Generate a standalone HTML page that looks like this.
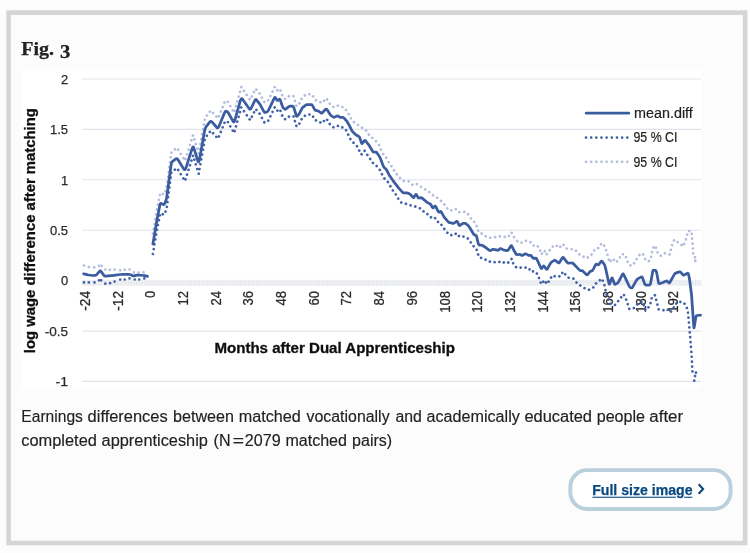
<!DOCTYPE html>
<html lang="en">
<head>
<meta charset="utf-8">
<title>Fig. 3</title>
<style>
html,body,figure{margin:0;padding:0;background:#fcfcfc;}
body{width:750px;height:553px;overflow:hidden;font-family:"Liberation Sans",sans-serif;}
svg{display:block;position:absolute;left:0;top:0;will-change:transform;}
svg text{font-family:"Liberation Sans",sans-serif;}
svg text.serif{font-family:"Liberation Serif",serif;}
</style>
</head>
<body>
<figure>
<svg width="750" height="553" viewBox="0 0 750 553">
<rect x="0" y="0" width="750" height="553" fill="#fcfcfc"/>
<!-- figure card -->
<rect x="8.57" y="12.6" width="736.5" height="530.45" fill="#fcfcfc" stroke="#d5d5d5" stroke-width="4.65"/>
<!-- figure title -->
<text class="serif" x="21.3" y="54.9" font-size="18.6" font-weight="bold" fill="#222222" stroke="#222222" stroke-width="0.25" textLength="32.8" lengthAdjust="spacingAndGlyphs">Fig.</text>
<text class="serif" x="59.9" y="57.7" font-size="19.2" font-weight="bold" fill="#222222" stroke="#222222" stroke-width="0.25" textLength="10.4" lengthAdjust="spacingAndGlyphs">3</text>
<defs><filter id="soft" x="-2%" y="-2%" width="104%" height="104%"><feGaussianBlur stdDeviation="0.5"/></filter></defs>
<g id="chart" filter="url(#soft)">
<rect x="21.2" y="69.8" width="680.3" height="319" fill="#ffffff"/>
<line x1="82.3" y1="79.0" x2="701.0" y2="79.0" stroke="#dfe4ec" stroke-width="1.1"/>
<line x1="82.3" y1="129.4" x2="701.0" y2="129.4" stroke="#dfe4ec" stroke-width="1.1"/>
<line x1="82.3" y1="179.7" x2="701.0" y2="179.7" stroke="#dfe4ec" stroke-width="1.1"/>
<line x1="82.3" y1="230.3" x2="701.0" y2="230.3" stroke="#dfe4ec" stroke-width="1.1"/>
<line x1="82.3" y1="331.1" x2="701.0" y2="331.1" stroke="#dfe4ec" stroke-width="1.1"/>
<line x1="82.3" y1="381.4" x2="701.0" y2="381.4" stroke="#dfe4ec" stroke-width="1.1"/>
<rect x="82.3" y="279.9" width="618.7" height="5.8" fill="#f0f1f4"/>
<path d="M82.30,279.9V285.7M85.02,279.9V285.7M87.75,279.9V285.7M90.47,279.9V285.7M93.20,279.9V285.7M95.92,279.9V285.7M98.65,279.9V285.7M101.37,279.9V285.7M104.10,279.9V285.7M106.82,279.9V285.7M109.55,279.9V285.7M112.27,279.9V285.7M115.00,279.9V285.7M117.72,279.9V285.7M120.45,279.9V285.7M123.17,279.9V285.7M125.90,279.9V285.7M128.62,279.9V285.7M131.35,279.9V285.7M134.07,279.9V285.7M136.80,279.9V285.7M139.52,279.9V285.7M142.25,279.9V285.7M144.97,279.9V285.7M147.70,279.9V285.7M150.42,279.9V285.7M153.15,279.9V285.7M155.87,279.9V285.7M158.60,279.9V285.7M161.32,279.9V285.7M164.05,279.9V285.7M166.77,279.9V285.7M169.50,279.9V285.7M172.22,279.9V285.7M174.95,279.9V285.7M177.67,279.9V285.7M180.40,279.9V285.7M183.12,279.9V285.7M185.85,279.9V285.7M188.57,279.9V285.7M191.30,279.9V285.7M194.02,279.9V285.7M196.75,279.9V285.7M199.47,279.9V285.7M202.20,279.9V285.7M204.92,279.9V285.7M207.65,279.9V285.7M210.37,279.9V285.7M213.10,279.9V285.7M215.82,279.9V285.7M218.55,279.9V285.7M221.27,279.9V285.7M224.00,279.9V285.7M226.72,279.9V285.7M229.45,279.9V285.7M232.17,279.9V285.7M234.90,279.9V285.7M237.62,279.9V285.7M240.35,279.9V285.7M243.07,279.9V285.7M245.80,279.9V285.7M248.52,279.9V285.7M251.25,279.9V285.7M253.97,279.9V285.7M256.70,279.9V285.7M259.42,279.9V285.7M262.15,279.9V285.7M264.87,279.9V285.7M267.60,279.9V285.7M270.32,279.9V285.7M273.05,279.9V285.7M275.77,279.9V285.7M278.50,279.9V285.7M281.22,279.9V285.7M283.95,279.9V285.7M286.67,279.9V285.7M289.40,279.9V285.7M292.12,279.9V285.7M294.85,279.9V285.7M297.57,279.9V285.7M300.30,279.9V285.7M303.03,279.9V285.7M305.75,279.9V285.7M308.48,279.9V285.7M311.20,279.9V285.7M313.93,279.9V285.7M316.65,279.9V285.7M319.38,279.9V285.7M322.10,279.9V285.7M324.83,279.9V285.7M327.55,279.9V285.7M330.28,279.9V285.7M333.00,279.9V285.7M335.73,279.9V285.7M338.45,279.9V285.7M341.18,279.9V285.7M343.90,279.9V285.7M346.63,279.9V285.7M349.35,279.9V285.7M352.08,279.9V285.7M354.80,279.9V285.7M357.53,279.9V285.7M360.25,279.9V285.7M362.98,279.9V285.7M365.70,279.9V285.7M368.43,279.9V285.7M371.15,279.9V285.7M373.88,279.9V285.7M376.60,279.9V285.7M379.33,279.9V285.7M382.05,279.9V285.7M384.78,279.9V285.7M387.50,279.9V285.7M390.23,279.9V285.7M392.95,279.9V285.7M395.68,279.9V285.7M398.40,279.9V285.7M401.13,279.9V285.7M403.85,279.9V285.7M406.58,279.9V285.7M409.30,279.9V285.7M412.03,279.9V285.7M414.75,279.9V285.7M417.48,279.9V285.7M420.20,279.9V285.7M422.93,279.9V285.7M425.65,279.9V285.7M428.38,279.9V285.7M431.10,279.9V285.7M433.83,279.9V285.7M436.55,279.9V285.7M439.28,279.9V285.7M442.00,279.9V285.7M444.73,279.9V285.7M447.45,279.9V285.7M450.18,279.9V285.7M452.90,279.9V285.7M455.63,279.9V285.7M458.35,279.9V285.7M461.08,279.9V285.7M463.80,279.9V285.7M466.53,279.9V285.7M469.25,279.9V285.7M471.98,279.9V285.7M474.70,279.9V285.7M477.43,279.9V285.7M480.15,279.9V285.7M482.88,279.9V285.7M485.60,279.9V285.7M488.33,279.9V285.7M491.05,279.9V285.7M493.78,279.9V285.7M496.50,279.9V285.7M499.23,279.9V285.7M501.95,279.9V285.7M504.68,279.9V285.7M507.40,279.9V285.7M510.13,279.9V285.7M512.85,279.9V285.7M515.58,279.9V285.7M518.30,279.9V285.7M521.03,279.9V285.7M523.75,279.9V285.7M526.48,279.9V285.7M529.20,279.9V285.7M531.93,279.9V285.7M534.65,279.9V285.7M537.38,279.9V285.7M540.10,279.9V285.7M542.83,279.9V285.7M545.55,279.9V285.7M548.28,279.9V285.7M551.00,279.9V285.7M553.73,279.9V285.7M556.45,279.9V285.7M559.18,279.9V285.7M561.90,279.9V285.7M564.63,279.9V285.7M567.35,279.9V285.7M570.08,279.9V285.7M572.80,279.9V285.7M575.53,279.9V285.7M578.25,279.9V285.7M580.98,279.9V285.7M583.70,279.9V285.7M586.43,279.9V285.7M589.15,279.9V285.7M591.88,279.9V285.7M594.60,279.9V285.7M597.33,279.9V285.7M600.05,279.9V285.7M602.78,279.9V285.7M605.50,279.9V285.7M608.23,279.9V285.7M610.95,279.9V285.7M613.68,279.9V285.7M616.40,279.9V285.7M619.13,279.9V285.7M621.85,279.9V285.7M624.58,279.9V285.7M627.30,279.9V285.7M630.03,279.9V285.7M632.75,279.9V285.7M635.48,279.9V285.7M638.20,279.9V285.7M640.93,279.9V285.7M643.65,279.9V285.7M646.38,279.9V285.7M649.10,279.9V285.7M651.83,279.9V285.7M654.55,279.9V285.7M657.28,279.9V285.7M660.00,279.9V285.7M662.73,279.9V285.7M665.45,279.9V285.7M668.18,279.9V285.7M670.90,279.9V285.7M673.63,279.9V285.7M676.35,279.9V285.7M679.08,279.9V285.7M681.80,279.9V285.7M684.53,279.9V285.7M687.25,279.9V285.7M689.98,279.9V285.7M692.70,279.9V285.7M695.43,279.9V285.7M698.15,279.9V285.7M700.88,279.9V285.7" stroke="#e7e9ed" stroke-width="1" fill="none"/>
<text x="68.1" y="83.8" text-anchor="end" font-size="13.7" fill="#2a2a2a" stroke="#2a2a2a" stroke-width="0.25" textLength="7.2" lengthAdjust="spacingAndGlyphs">2</text>
<text x="68.1" y="134.2" text-anchor="end" font-size="13.7" fill="#2a2a2a" stroke="#2a2a2a" stroke-width="0.25" textLength="18.1" lengthAdjust="spacingAndGlyphs">1.5</text>
<text x="68.1" y="184.5" text-anchor="end" font-size="13.7" fill="#2a2a2a" stroke="#2a2a2a" stroke-width="0.25" textLength="7.2" lengthAdjust="spacingAndGlyphs">1</text>
<text x="68.1" y="235.1" text-anchor="end" font-size="13.7" fill="#2a2a2a" stroke="#2a2a2a" stroke-width="0.25" textLength="18.1" lengthAdjust="spacingAndGlyphs">0.5</text>
<text x="68.1" y="285.1" text-anchor="end" font-size="13.7" fill="#2a2a2a" stroke="#2a2a2a" stroke-width="0.25" textLength="7.2" lengthAdjust="spacingAndGlyphs">0</text>
<text x="68.1" y="335.9" text-anchor="end" font-size="13.7" fill="#2a2a2a" stroke="#2a2a2a" stroke-width="0.25" textLength="23.4" lengthAdjust="spacingAndGlyphs">-0.5</text>
<text x="68.1" y="386.2" text-anchor="end" font-size="13.7" fill="#2a2a2a" stroke="#2a2a2a" stroke-width="0.25" textLength="12.6" lengthAdjust="spacingAndGlyphs">-1</text>
<text transform="translate(89.8,290.9) rotate(-90)" text-anchor="end" font-size="14" fill="#2a2a2a" stroke="#2a2a2a" stroke-width="0.25" textLength="19.8" lengthAdjust="spacingAndGlyphs">-24</text>
<text transform="translate(122.5,290.9) rotate(-90)" text-anchor="end" font-size="14" fill="#2a2a2a" stroke="#2a2a2a" stroke-width="0.25" textLength="19.8" lengthAdjust="spacingAndGlyphs">-12</text>
<text transform="translate(155.2,290.9) rotate(-90)" text-anchor="end" font-size="14" fill="#2a2a2a" stroke="#2a2a2a" stroke-width="0.25" textLength="7.2" lengthAdjust="spacingAndGlyphs">0</text>
<text transform="translate(187.9,290.9) rotate(-90)" text-anchor="end" font-size="14" fill="#2a2a2a" stroke="#2a2a2a" stroke-width="0.25" textLength="14.5" lengthAdjust="spacingAndGlyphs">12</text>
<text transform="translate(220.6,290.9) rotate(-90)" text-anchor="end" font-size="14" fill="#2a2a2a" stroke="#2a2a2a" stroke-width="0.25" textLength="14.5" lengthAdjust="spacingAndGlyphs">24</text>
<text transform="translate(253.3,290.9) rotate(-90)" text-anchor="end" font-size="14" fill="#2a2a2a" stroke="#2a2a2a" stroke-width="0.25" textLength="14.5" lengthAdjust="spacingAndGlyphs">36</text>
<text transform="translate(286.0,290.9) rotate(-90)" text-anchor="end" font-size="14" fill="#2a2a2a" stroke="#2a2a2a" stroke-width="0.25" textLength="14.5" lengthAdjust="spacingAndGlyphs">48</text>
<text transform="translate(318.7,290.9) rotate(-90)" text-anchor="end" font-size="14" fill="#2a2a2a" stroke="#2a2a2a" stroke-width="0.25" textLength="14.5" lengthAdjust="spacingAndGlyphs">60</text>
<text transform="translate(351.4,290.9) rotate(-90)" text-anchor="end" font-size="14" fill="#2a2a2a" stroke="#2a2a2a" stroke-width="0.25" textLength="14.5" lengthAdjust="spacingAndGlyphs">72</text>
<text transform="translate(384.1,290.9) rotate(-90)" text-anchor="end" font-size="14" fill="#2a2a2a" stroke="#2a2a2a" stroke-width="0.25" textLength="14.5" lengthAdjust="spacingAndGlyphs">84</text>
<text transform="translate(416.8,290.9) rotate(-90)" text-anchor="end" font-size="14" fill="#2a2a2a" stroke="#2a2a2a" stroke-width="0.25" textLength="14.5" lengthAdjust="spacingAndGlyphs">96</text>
<text transform="translate(449.5,290.9) rotate(-90)" text-anchor="end" font-size="14" fill="#2a2a2a" stroke="#2a2a2a" stroke-width="0.25" textLength="21.8" lengthAdjust="spacingAndGlyphs">108</text>
<text transform="translate(482.2,290.9) rotate(-90)" text-anchor="end" font-size="14" fill="#2a2a2a" stroke="#2a2a2a" stroke-width="0.25" textLength="21.8" lengthAdjust="spacingAndGlyphs">120</text>
<text transform="translate(514.9,290.9) rotate(-90)" text-anchor="end" font-size="14" fill="#2a2a2a" stroke="#2a2a2a" stroke-width="0.25" textLength="21.8" lengthAdjust="spacingAndGlyphs">132</text>
<text transform="translate(547.6,290.9) rotate(-90)" text-anchor="end" font-size="14" fill="#2a2a2a" stroke="#2a2a2a" stroke-width="0.25" textLength="21.8" lengthAdjust="spacingAndGlyphs">144</text>
<text transform="translate(580.3,290.9) rotate(-90)" text-anchor="end" font-size="14" fill="#2a2a2a" stroke="#2a2a2a" stroke-width="0.25" textLength="21.8" lengthAdjust="spacingAndGlyphs">156</text>
<text transform="translate(613.0,290.9) rotate(-90)" text-anchor="end" font-size="14" fill="#2a2a2a" stroke="#2a2a2a" stroke-width="0.25" textLength="21.8" lengthAdjust="spacingAndGlyphs">168</text>
<text transform="translate(645.7,290.9) rotate(-90)" text-anchor="end" font-size="14" fill="#2a2a2a" stroke="#2a2a2a" stroke-width="0.25" textLength="21.8" lengthAdjust="spacingAndGlyphs">180</text>
<text transform="translate(678.4,290.9) rotate(-90)" text-anchor="end" font-size="14" fill="#2a2a2a" stroke="#2a2a2a" stroke-width="0.25" textLength="21.8" lengthAdjust="spacingAndGlyphs">192</text>
<text x="334.7" y="353.4" text-anchor="middle" font-size="14.1" font-weight="bold" fill="#111111" stroke="#111111" stroke-width="0.3" textLength="240.5" lengthAdjust="spacingAndGlyphs">Months after Dual Apprenticeship</text>
<text transform="translate(35.3,230.7) rotate(-90)" text-anchor="middle" font-size="14.4" font-weight="bold" fill="#111111" stroke="#111111" stroke-width="0.3" textLength="245" lengthAdjust="spacingAndGlyphs">log wage difference after matching</text>
<path d="M84.0,265.5h0.01M88.8,267.1h0.01M94.2,267.4h0.01M99.0,265.8h0.01M101.7,265.8h0.01M105.3,269.5h0.01M109.8,269.8h0.01M114.6,269.5h0.01M120.2,270.3h0.01M124.7,269.8h0.01M129.5,269.5h0.01M133.9,272.4h0.01M138.7,272.7h0.01M143.5,272.4h0.01" stroke="#b3bcdd" fill="none" stroke-width="2.7" stroke-linecap="round" stroke-linejoin="round" stroke-dasharray="0.01 4.9"/>
<path d="M152.9,233.7 L157.2,208.2 L160.3,192.9 L164.1,194.5 L166.5,188.9 L171.4,151.9 L177.0,147.8 L185.0,160.7 L193.1,135.1 L198.7,153.5 L205.1,117.7 L210.8,110.4 L218.0,118.4 L225.2,100.7 L227.7,101.5 L234.1,112.8 L241.3,87.0 L250.2,99.9 L255.6,88.7 L259.7,93.5 L264.5,102.3 L267.7,101.5 L274.9,86.7 L277.3,90.3 L279.8,88.7 L283.0,97.5 L285.4,99.1 L289.4,95.9 L293.4,95.9 L296.6,106.3 L299.1,103.9 L302.3,97.5 L306.3,94.3 L311.9,94.3 L315.1,99.9 L318.4,100.7 L321.6,103.1 L326.4,98.3 L330.4,104.7 L333.6,107.1 L337.7,105.5 L340.1,107.1 L343.3,107.1 L346.5,110.4 L348.9,114.4 L352.1,120.8 L358.8,125.6 L366.1,130.5 L369.3,135.3 L375.7,140.9 L379.0,144.9 L380.6,149.0 L383.0,153.8 L386.2,157.8 L388.6,162.1 L391.5,166.3 L394.2,170.7 L397.1,174.7 L400.7,178.7 L403.9,181.1 L408.7,181.4 L412.7,185.1 L416.8,184.0 L420.8,186.8 L424.8,189.2 L428.8,191.6 L432.0,194.8 L436.1,196.9 L439.3,199.6 L442.5,202.0 L445.7,206.1 L448.1,209.8 L453.0,210.6 L456.2,209.0 L459.4,212.2 L465.8,211.8 L469.1,215.4 L471.5,219.4 L475.5,223.1 L477.1,227.5 L478.7,232.3 L482.7,233.9 L486.8,237.1 L490.8,237.9 L499.6,236.3 L508.1,237.1 L511.4,232.3 L514.9,238.7 L518.1,241.9 L522.1,242.7 L525.4,240.8 L530.0,241.5 L533.2,245.6 L537.2,245.1 L539.7,249.6 L541.3,254.4 L544.5,250.4 L546.1,254.9 L548.5,252.0 L551.7,247.2 L555.7,244.8 L559.0,248.0 L563.0,244.0 L567.0,248.8 L575.0,249.6 L578.3,253.6 L582.3,256.0 L586.3,258.4 L589.5,256.5 L592.7,253.3 L595.1,248.8 L598.4,248.0 L601.6,243.1 L604.8,246.4 L606.4,251.2 L608.0,256.8 L609.6,262.4 L612.8,258.4 L616.1,262.5 L619.3,258.4 L621.5,254.3 L624.7,254.3 L626.7,258.5 L628.1,263.9 L631.4,265.9 L634.8,262.5 L637.4,257.8 L640.1,253.8 L642.8,253.8 L644.8,258.5 L648.2,261.6 L650.8,259.2 L651.5,254.5 L652.6,249.8 L654.4,245.5 L656.6,248.5 L657.9,253.8 L660.9,255.8 L664.9,253.2 L669.6,254.5 L670.9,249.5 L672.2,244.5 L674.3,239.8 L676.3,241.5 L679.6,243.1 L683.0,246.5 L685.6,240.7 L687.0,235.7 L687.9,231.1 L691.4,231.1 L691.9,236.4 L692.3,241.8 L692.7,246.4 L693.0,251.1 L693.3,256.5 L696.7,258.2 L694.3,262.5" stroke="#b3bcdd" fill="none" stroke-width="2.7" stroke-linecap="round" stroke-linejoin="round" stroke-dasharray="0.01 4.9"/>
<path d="M84.0,282.4h0.01M88.8,282.4h0.01M94.5,282.4h0.01M99.0,280.3h0.01M101.2,280.3h0.01M105.3,283.7h0.01M110.1,283.2h0.01M114.6,281.6h0.01M120.2,279.6h0.01M124.7,279.5h0.01M129.5,278.4h0.01M134.7,279.5h0.01M139.2,279.5h0.01M144.3,278.4h0.01" stroke="#4062a8" fill="none" stroke-width="2.7" stroke-linecap="round" stroke-linejoin="round" stroke-dasharray="0.01 4.9"/>
<path d="M152.9,254.0 L157.2,228.5 L160.3,213.2 L164.1,214.8 L166.5,209.2 L171.4,172.2 L177.0,168.1 L185.0,181.0 L193.1,155.4 L198.7,173.8 L205.1,138.0 L210.8,130.7 L218.0,138.7 L225.2,121.0 L227.7,121.8 L234.1,133.1 L241.3,107.3 L250.2,120.2 L255.6,109.0 L259.7,113.8 L264.5,122.6 L267.7,121.8 L274.9,107.0 L277.3,110.6 L279.8,109.0 L283.0,117.8 L285.4,119.4 L289.4,116.2 L293.4,116.2 L296.6,126.6 L299.1,124.2 L302.3,117.8 L306.3,114.6 L311.9,114.6 L315.1,120.2 L318.4,121.0 L321.6,123.4 L326.4,118.6 L330.4,125.0 L333.6,127.4 L337.7,125.8 L340.1,127.4 L343.3,127.4 L346.5,130.7 L350.0,138.5 L353.2,142.5 L357.2,146.5 L361.3,154.6 L364.5,150.6 L367.7,155.4 L370.6,159.4 L373.3,163.4 L376.5,165.8 L379.8,169.9 L382.2,174.7 L384.6,178.7 L387.8,181.9 L390.2,185.9 L392.6,190.0 L395.5,194.0 L398.3,198.8 L401.5,202.8 L405.5,203.6 L410.3,205.3 L414.3,206.1 L421.6,209.0 L424.8,213.0 L428.8,214.6 L432.1,218.6 L435.0,218.0 L436.9,221.5 L440.1,222.6 L442.5,226.6 L445.7,230.7 L449.0,234.7 L453.0,235.5 L456.7,233.1 L459.4,236.6 L462.0,236.3 L466.6,237.1 L469.9,240.8 L472.3,245.1 L476.3,248.4 L477.6,253.2 L479.5,257.5 L484.0,258.5 L488.4,261.6 L492.4,261.7 L497.2,262.8 L501.2,261.2 L506.1,263.6 L509.3,262.0 L511.7,258.8 L513.3,263.6 L516.5,267.7 L520.5,267.7 L524.5,267.3 L529.4,268.5 L530.0,271.3 L535.6,271.6 L538.0,275.3 L541.3,284.2 L544.5,280.1 L546.9,284.2 L550.1,279.3 L552.5,275.3 L556.5,276.9 L560.6,276.1 L563.0,271.6 L565.4,274.5 L568.6,277.7 L573.4,278.5 L576.6,282.6 L580.7,285.8 L584.7,288.2 L588.7,289.8 L592.7,288.2 L596.0,283.4 L599.2,280.9 L601.6,278.5 L604.0,283.4 L606.6,294.9 L610.3,303.7 L614.7,305.2 L619.1,300.0 L623.5,294.2 L626.4,300.0 L629.3,308.9 L633.0,308.9 L638.1,303.7 L642.5,301.5 L645.5,310.3 L649.9,305.9 L652.1,296.4 L655.0,295.2 L657.2,303.7 L658.7,309.3 L663.1,310.3 L666.7,308.9 L670.4,312.5 L674.8,305.9 L677.7,301.5 L683.6,302.3 L686.5,306.7 L688.0,312.5 L688.7,319.9 L689.5,328.7 L690.2,337.5 L690.9,346.3 L691.6,355.0 L692.1,364.0 L692.5,372.9 L696.9,372.5 L694.2,377.6 L694.2,381.8" stroke="#4062a8" fill="none" stroke-width="2.7" stroke-linecap="round" stroke-linejoin="round" stroke-dasharray="0.01 4.9"/>
<path d="M83.6,273.8L87.3,274.7Q88.0,274.9 88.8,275.0L92.7,275.5Q93.5,275.6 93.9,275.5L95.9,275.1Q96.3,275.0 96.9,274.3L99.7,271.1Q100.3,270.4 100.9,271.3L103.9,275.4Q104.5,276.3 105.7,276.2L111.0,275.7Q112.2,275.6 113.6,275.4L120.4,274.5Q121.8,274.3 123.0,274.3L128.7,274.3Q129.9,274.3 130.4,274.6L132.6,275.7Q133.1,276.0 133.8,275.9L137.2,275.2Q137.9,275.1 138.9,275.2L143.3,275.5Q144.3,275.6 144.8,275.7L147.6,276.3" stroke="#3a5c9f" fill="none" stroke-width="2.75" stroke-linecap="round" stroke-linejoin="round"/>
<path d="M152.9,244.0L156.6,222.3Q157.2,218.5 157.7,216.2L159.8,205.5Q160.3,203.2 160.9,203.4L163.5,204.6Q164.1,204.8 164.5,204.0L166.1,200.0Q166.5,199.2 167.2,193.6L170.7,167.8Q171.4,162.2 172.2,161.6L176.2,158.7Q177.0,158.1 178.2,160.0L183.8,169.1Q185.0,171.0 186.2,167.2L191.9,149.2Q193.1,145.4 193.9,148.2L197.9,161.0Q198.7,163.8 199.7,158.4L204.1,133.4Q205.1,128.0 206.0,126.9L209.9,121.8Q210.8,120.7 211.9,121.9L216.9,127.5Q218.0,128.7 219.1,126.0L224.1,113.7Q225.2,111.0 225.6,111.1L227.3,111.7Q227.7,111.8 228.7,113.5L233.1,121.4Q234.1,123.1 235.2,119.2L240.2,101.2Q241.3,97.3 242.6,99.2L248.9,108.3Q250.2,110.2 251.0,108.5L254.8,100.7Q255.6,99.0 256.2,99.7L259.1,103.1Q259.7,103.8 260.4,105.1L263.8,111.3Q264.5,112.6 265.0,112.5L267.2,111.9Q267.7,111.8 268.8,109.6L273.8,99.2Q274.9,97.0 275.3,97.5L276.9,100.1Q277.3,100.6 277.7,100.4L279.4,99.2Q279.8,99.0 280.3,100.3L282.5,106.5Q283.0,107.8 283.4,108.0L285.0,109.2Q285.4,109.4 286.0,108.9L288.8,106.7Q289.4,106.2 290.0,106.2L292.8,106.2Q293.4,106.2 293.9,107.8L296.1,115.0Q296.6,116.6 297.0,116.2L298.7,114.6Q299.1,114.2 299.6,113.2L301.8,108.8Q302.3,107.8 302.9,107.3L305.7,105.1Q306.3,104.6 307.1,104.6L311.1,104.6Q311.9,104.6 312.4,105.4L314.6,109.4Q315.1,110.2 315.6,110.3L317.9,110.9Q318.4,111.0 318.9,111.4L321.1,113.0Q321.6,113.4 322.3,112.7L325.7,109.3Q326.4,108.6 327.0,109.6L329.8,114.0Q330.4,115.0 330.9,115.4L333.1,117.0Q333.6,117.4 334.2,117.2L337.1,116.0Q337.7,115.8 338.1,116.0L339.7,117.2Q340.1,117.4 340.6,117.4L342.8,117.4Q343.3,117.4 343.8,117.9L346.0,120.2Q346.5,120.7 346.9,121.3L348.5,124.1Q348.9,124.7 349.4,125.7L351.6,130.1Q352.1,131.1 352.7,131.7L355.6,134.5Q356.2,135.1 356.7,135.3L358.9,136.5Q359.4,136.7 359.8,137.8L361.4,142.9Q361.8,144.0 362.3,143.4L364.5,140.6Q365.0,140.0 365.6,140.9L368.7,144.8Q369.3,145.7 369.9,146.7L372.7,151.2Q373.3,152.2 373.8,152.2L376.0,152.2Q376.5,152.2 377.0,152.9L379.3,156.3Q379.8,157.0 380.4,158.6L383.2,165.8Q383.8,167.4 384.2,167.7L385.8,168.8Q386.2,169.1 386.7,170.1L388.9,174.5Q389.4,175.5 390.0,176.3L392.8,180.3Q393.4,181.1 394.1,182.1L397.6,186.6Q398.3,187.6 399.0,188.4L402.4,192.1Q403.1,192.9 403.7,192.9L406.5,192.9Q407.1,192.9 407.6,193.1L409.8,194.1Q410.3,194.3 410.8,194.9L413.0,197.4Q413.5,198.0 413.9,197.4L415.6,194.6Q416.0,194.0 416.4,194.6L418.0,197.4Q418.4,198.0 418.9,198.0L421.1,197.7Q421.6,197.7 422.4,198.4L426.4,201.8Q427.2,202.5 427.7,202.7L430.0,203.9Q430.5,204.1 430.9,204.7L432.5,207.5Q432.9,208.1 433.3,207.7L434.9,206.1Q435.3,205.7 435.8,206.7L438.0,211.2Q438.5,212.2 438.9,212.1L440.5,211.5Q440.9,211.4 441.4,212.2L443.6,216.2Q444.1,217.0 444.8,217.8L448.3,221.8Q449.0,222.6 449.7,222.7L453.1,223.3Q453.8,223.4 454.3,223.0L456.5,221.4Q457.0,221.0 457.4,221.7L459.0,225.1Q459.4,225.8 459.9,225.4L462.1,223.8Q462.6,223.4 463.1,223.4L465.3,223.4Q465.8,223.4 466.3,223.9L468.6,226.1Q469.1,226.6 469.8,227.8L473.2,233.5Q473.9,234.7 474.3,234.8L475.9,235.4Q476.3,235.5 476.7,236.9L478.3,243.7Q478.7,245.1 479.2,245.1L481.4,245.1Q481.9,245.1 482.5,245.5L485.3,247.2Q485.9,247.6 486.5,248.1L489.4,250.3Q490.0,250.8 490.5,250.6L492.7,249.4Q493.2,249.2 493.9,249.4L497.3,250.2Q498.0,250.4 498.4,250.1L500.0,248.7Q500.4,248.4 500.9,248.6L503.1,249.8Q503.6,250.0 504.2,250.1L507.1,250.7Q507.7,250.8 508.3,249.9L510.8,246.0Q511.4,245.1 511.8,246.0L513.7,249.9Q514.1,250.8 514.5,251.4L516.1,254.2Q516.5,254.8 517.0,254.7L519.2,254.4Q519.7,254.3 520.1,254.5L521.7,255.4Q522.1,255.6 522.6,255.3L524.9,254.0Q525.4,253.7 525.9,253.9L528.1,255.1Q528.6,255.3 529.0,255.3L530.6,255.3Q531.0,255.3 531.3,255.8L532.9,257.9Q533.2,258.4 533.7,258.4L535.9,258.1Q536.4,258.1 537.1,259.7L540.6,267.3Q541.3,268.9 541.7,268.4L543.3,266.2Q543.7,265.7 544.2,266.3L546.4,269.1Q546.9,269.7 547.5,268.6L550.3,263.6Q550.9,262.5 551.5,262.1L554.3,260.4Q554.9,260.0 555.5,260.5L558.4,262.8Q559.0,263.3 559.6,262.3L562.4,257.8Q563.0,256.8 563.7,257.8L567.1,262.3Q567.8,263.3 568.5,263.2L571.9,263.0Q572.6,262.9 573.7,264.0L578.8,269.4Q579.9,270.5 580.3,270.5L581.9,270.5Q582.3,270.5 583.0,271.2L586.4,274.6Q587.1,275.3 587.6,274.7L589.8,271.9Q590.3,271.3 590.7,271.2L592.3,270.6Q592.7,270.5 593.2,269.5L595.4,265.1Q595.9,264.1 596.3,264.2L598.0,264.8Q598.4,264.9 598.9,264.3L601.1,261.4Q601.6,260.8 602.1,261.4L604.3,264.3Q604.8,264.9 605.5,267.9L608.6,282.0Q609.3,285.0 609.7,283.8L611.6,278.4Q612.0,277.2 612.4,278.3L614.3,283.5Q614.7,284.6 615.2,284.3L617.5,283.1Q618.0,282.8 618.8,281.4L622.2,274.8Q623.0,273.4 623.4,274.1L625.0,277.2Q625.4,277.9 626.0,279.3L629.1,286.0Q629.7,287.4 630.1,287.5L631.7,288.0Q632.1,288.1 632.8,286.8L636.2,280.6Q636.9,279.3 637.7,278.9L641.3,276.9Q642.1,276.5 642.5,277.8L644.6,283.7Q645.0,285.0 645.8,285.0L649.5,285.0Q650.3,285.0 650.7,282.8L652.6,272.2Q653.0,270.0 653.5,270.1L655.7,270.4Q656.2,270.5 656.6,272.5L658.4,281.9Q658.8,283.9 659.4,283.7L662.3,282.8Q662.9,282.6 663.5,282.3L666.2,281.1Q666.8,280.8 667.2,281.2L669.0,282.9Q669.4,283.3 670.2,281.8L674.1,274.9Q674.9,273.4 675.7,273.1L679.3,271.9Q680.1,271.6 680.6,272.1L682.8,274.7Q683.3,275.2 684.0,274.9L687.5,273.3Q688.2,273.0 688.4,273.9L689.3,277.9Q689.5,278.8 689.8,281.4L691.4,293.8Q691.7,296.4 692.0,301.3L693.6,324.4Q693.9,329.4 694.2,327.3L695.8,317.6Q696.1,315.5 696.8,315.5L700.5,315.2" stroke="#3a5c9f" fill="none" stroke-width="2.75" stroke-linecap="round" stroke-linejoin="round"/>
<line x1="586.2" y1="113.2" x2="628.8" y2="113.2" stroke="#3a5c9f" stroke-width="2.7" stroke-linecap="round"/>
<path d="M586,137.6H628" stroke="#4062a8" fill="none" stroke-width="2.7" stroke-linecap="round" stroke-linejoin="round" stroke-dasharray="0.01 5.15"/>
<path d="M586,161.8H628" stroke="#b3bcdd" fill="none" stroke-width="2.7" stroke-linecap="round" stroke-linejoin="round" stroke-dasharray="0.01 5.15"/>
<text x="634.0" y="117.5" font-size="15.3" fill="#222222" stroke="#222222" stroke-width="0.2" textLength="58.8" lengthAdjust="spacingAndGlyphs">mean.diff</text>
<text x="633.5" y="142.2" font-size="14.3" fill="#222222" stroke="#222222" stroke-width="0.2" textLength="43.9" lengthAdjust="spacingAndGlyphs">95 % CI</text>
<text x="633.5" y="166.6" font-size="14.3" fill="#222222" stroke="#222222" stroke-width="0.2" textLength="43.9" lengthAdjust="spacingAndGlyphs">95 % CI</text>
</g>
<!-- caption -->
<text y="422.1" font-size="15.6" fill="#222222" stroke="#222222" stroke-width="0.15"><tspan x="21.3" textLength="61.6" lengthAdjust="spacingAndGlyphs">Earnings</tspan> <tspan x="87.6" textLength="80.1" lengthAdjust="spacingAndGlyphs">differences</tspan> <tspan x="173.1" textLength="60.9" lengthAdjust="spacingAndGlyphs">between</tspan> <tspan x="238.7" textLength="62.1" lengthAdjust="spacingAndGlyphs">matched</tspan> <tspan x="306.5" textLength="83.1" lengthAdjust="spacingAndGlyphs">vocationally</tspan> <tspan x="395.4" textLength="26.4" lengthAdjust="spacingAndGlyphs">and</tspan> <tspan x="426.5" textLength="93.3" lengthAdjust="spacingAndGlyphs">academically</tspan> <tspan x="524.4" textLength="67.6" lengthAdjust="spacingAndGlyphs">educated</tspan> <tspan x="596.7" textLength="48.4" lengthAdjust="spacingAndGlyphs">people</tspan> <tspan x="649.3" textLength="33.8" lengthAdjust="spacingAndGlyphs">after</tspan> </text><text y="445.6" font-size="15.6" fill="#222222" stroke="#222222" stroke-width="0.15"><tspan x="21.3" textLength="75.6" lengthAdjust="spacingAndGlyphs">completed</tspan> <tspan x="101.6" textLength="106.3" lengthAdjust="spacingAndGlyphs">apprenticeship</tspan> <tspan x="213.6" textLength="17.0" lengthAdjust="spacingAndGlyphs">(N</tspan> <tspan x="232.7" textLength="11.3" lengthAdjust="spacingAndGlyphs">=</tspan> <tspan x="244.8" textLength="35.9" lengthAdjust="spacingAndGlyphs">2079</tspan> <tspan x="285.4" textLength="61.6" lengthAdjust="spacingAndGlyphs">matched</tspan> <tspan x="352.1" textLength="40.1" lengthAdjust="spacingAndGlyphs">pairs)</tspan> </text>
<!-- button -->
<a href="#Fig3">
<rect x="570.3" y="470.1" width="160.3" height="38.9" rx="16.8" ry="16.8" fill="#ffffff" stroke="#bbd0dd" stroke-width="3.9"/>
<text x="592.2" y="494.6" font-size="13.9" font-weight="bold" fill="#0a4a80" stroke="#0a4a80" stroke-width="0.25" textLength="100.3" lengthAdjust="spacingAndGlyphs">Full size image</text>
<rect x="592.5" y="496.7" width="83.3" height="1.1" fill="#0a4a80"/><rect x="684.1" y="496.7" width="8.2" height="1.1" fill="#0a4a80"/>
<path d="M698.7,484.3 L703.1,489.0 L698.7,493.7" fill="none" stroke="#0a4a80" stroke-width="2.1"/>
</a>
</svg>
</figure>
</body>
</html>
